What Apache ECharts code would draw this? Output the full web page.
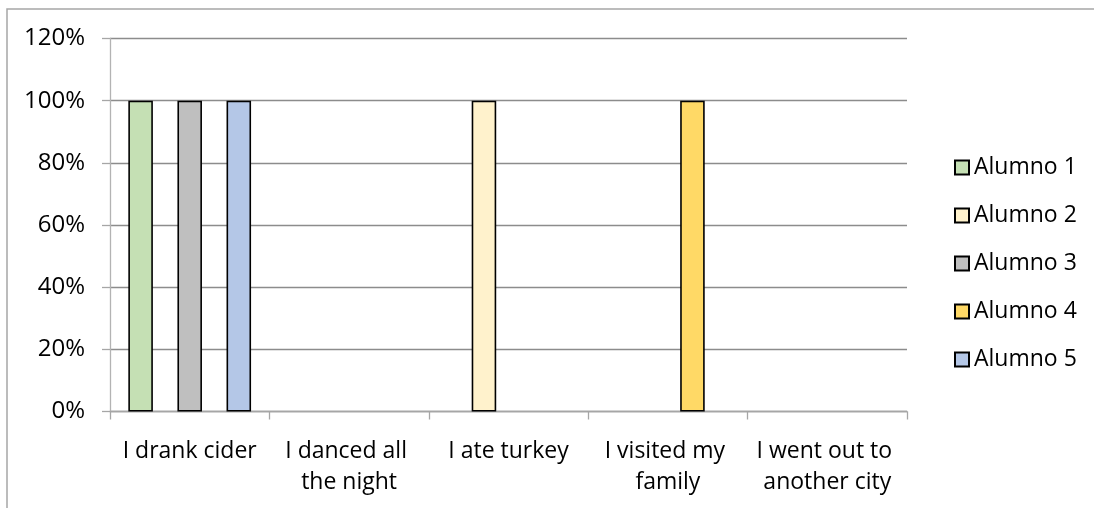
<!DOCTYPE html>
<html>
<head>
<meta charset="utf-8">
<script src="https://cdn.jsdelivr.net/npm/echarts@6/dist/echarts.min.js"></script>
<style>
html,body{margin:0;padding:0;background:#fff;}
#chart{width:1094px;height:508px;}
</style>
</head>
<body>
<div id="chart"></div>
<script>
const categories = ["I drank cider", "I danced all the night", "I ate turkey", "I visited my family", "I went out to another city"];
const seriesNames = ["Alumno 1", "Alumno 2", "Alumno 3", "Alumno 4", "Alumno 5"];
const alumno1 = [100, 0, 0, 0, 0];
const alumno2 = [0, 0, 100, 0, 0];
const alumno3 = [100, 0, 0, 0, 0];
const alumno4 = [0, 0, 0, 100, 0];
const alumno5 = [100, 0, 0, 0, 0];
const yTicks = [0, 20, 40, 60, 80, 100, 120];

const seriesValues = [alumno1, alumno2, alumno3, alumno4, alumno5];
const colors = ["#C5E0B4", "#FFF2CC", "#BFBFBF", "#FFD966", "#B4C7E7"];
const FONT = "'Open Sans', sans-serif";

const chart = echarts.init(document.getElementById('chart'), null, {renderer: 'canvas'});
chart.setOption({
  animation: false,
  backgroundColor: '#fff',
  graphic: [{
    type: 'rect',
    shape: {x: 7, y: 9, width: 1200, height: 600},
    style: {fill: null, stroke: '#A6A6A6', lineWidth: 1.5},
    silent: true
  }],
  grid: {left: 110, right: 187, top: 38.5, bottom: 96.5, containLabel: false},
  legend: {
    orient: 'vertical',
    left: 949,
    top: 151,
    itemWidth: 14,
    itemHeight: 14,
    itemGap: 25,
    icon: 'rect',
    textStyle: {fontFamily: FONT, fontSize: 23, color: '#000', lineHeight: 22, padding: [0, 0, 0, 0]},
    data: seriesNames
  },
  xAxis: {
    type: 'category',
    data: categories,
    boundaryGap: true,
    axisLine: {show: true, lineStyle: {color: '#A6A6A6', width: 1.3}},
    axisTick: {show: true, length: 8, lineStyle: {color: '#A6A6A6', width: 1.3}},
    axisLabel: {
      interval: 0,
      margin: 24,
      color: '#000',
      fontFamily: FONT,
      fontSize: 23,
      lineHeight: 31,
      width: 150,
      overflow: 'break'
    },
    splitLine: {show: false}
  },
  yAxis: {
    type: 'value',
    min: yTicks[0],
    max: yTicks[yTicks.length - 1],
    interval: yTicks[1] - yTicks[0],
    axisLine: {show: true, lineStyle: {color: '#B3B3B3', width: 1.3}},
    axisTick: {show: true, length: 8, lineStyle: {color: '#A6A6A6', width: 1.3}},
    axisLabel: {
      margin: 25,
      color: '#000',
      fontFamily: FONT,
      fontSize: 24,
      formatter: '{value}%'
    },
    splitLine: {show: true, lineStyle: {color: '#8C8C8C', width: 1.3}}
  },
  series: seriesNames.map((name, i) => ({
    name: name,
    type: 'bar',
    barGap: '0%',
    barCategoryGap: '23%',
    itemStyle: {color: colors[i], borderColor: '#000', borderWidth: 1.6},
    data: seriesValues[i].map(v => v === 0 ? {value: v, itemStyle: {borderWidth: 0}} : v)
  }))
});
</script>
</body>
</html>
